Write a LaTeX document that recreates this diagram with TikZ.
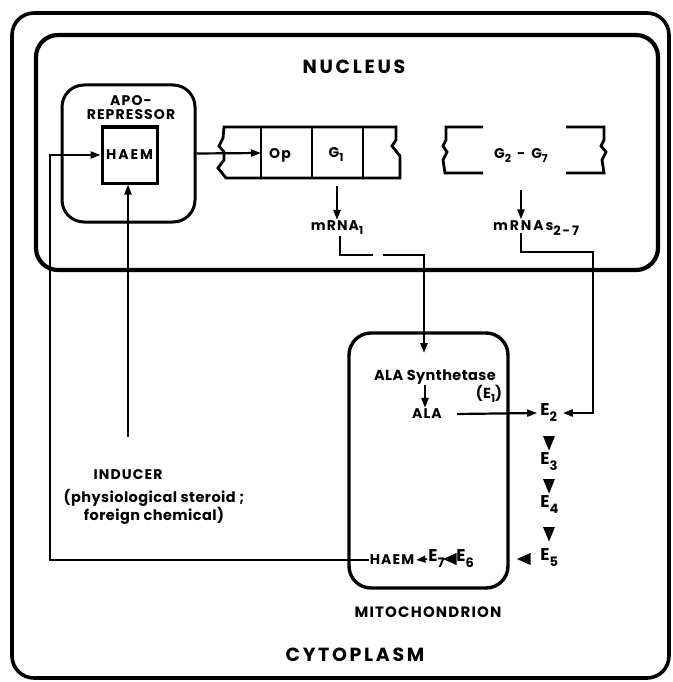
\documentclass[tikz,border=0pt]{standalone}
\usepackage{fontspec}
\setmainfont{Poppins}
\newfontfamily\labf[LetterSpace=8]{Poppins}
\newfontfamily\wlabf[LetterSpace=14]{Poppins}
\newfontfamily\txtf[LetterSpace=3]{Poppins}
\usetikzlibrary{arrows.meta}
\newcommand\Es[1]{E\rlap{\raisebox{-6pt}{\fontsize{13}{13}\selectfont #1}}}
\newcommand\sbs[1]{\raisebox{-4pt}{\fontsize{11}{11}\selectfont #1}}
\begin{document}
\begin{tikzpicture}[x=1pt,y=-1pt,
  every node/.style={inner sep=1pt},
  lbl/.style={font=\labf\bfseries\fontsize{14}{17}\selectfont},
  big/.style={font=\wlabf\bfseries\fontsize{19}{21}\selectfont},
  mid/.style={font=\labf\bfseries\fontsize{15}{17}\selectfont},
  txt/.style={font=\txtf\bfseries\fontsize{14.5}{18}\selectfont},
  enz/.style={font=\bfseries\fontsize{17}{18}\selectfont},
  arr/.style={line width=2.2pt,-{Triangle[length=10pt,width=7pt]}},
  conn/.style={line width=2.2pt},
  gene/.style={line width=2.8pt,line join=miter},
  dtri/.pic={\fill (-6,-7) -- (6,-7) -- (0,7.5) -- cycle;},
  ltri/.pic={\fill (6.5,-6) -- (6.5,6) -- (-7,0) -- cycle;}
]
\useasboundingbox (0,0) rectangle (672,682);
% compartments
\draw[line width=3.6pt,rounded corners=22pt] (12,13) rectangle (669,678);
\draw[line width=4.2pt,rounded corners=22pt] (36,35) rectangle (658,270);
\node[big] (nuc) at (354,67) {NUCLEUS};
\draw[line width=3.4pt,rounded corners=22pt] (349,333) rectangle (508,588);
\node[mid] (mito) at (428,612) {MITOCHONDRION};
\node[big] (cyto) at (355,655) {CYTOPLASM};
% aporepressor
\node[draw,line width=3pt,rounded corners=22pt,minimum width=133pt,minimum height=137pt] (apobox) at (128.5,153.5) {};
\node[lbl,align=center] (apo) at (131,108) {APO-\\[-3pt]REPRESSOR};
\node[draw,line width=3pt,minimum width=55pt,minimum height=56pt,font=\wlabf\bfseries\fontsize{14}{17}\selectfont,inner sep=0pt] (haemR) at (129.5,155) {HAEM};
% operon gene bar
\draw[gene] (224,127) -- (396,127) -- (396,140) -- (392,146) -- (400,156) -- (400,178) -- (226,178)
  -- (218,168) -- (224,160) -- (224,152) -- (219,146) -- (223,138) -- cycle;
\draw[gene] (261,127) -- (261,178) (312,127) -- (312,178) (363,127) -- (363,178);
\coordinate (opw) at (261,153);
\node[lbl] (op) at (280,155) {Op};
\node[lbl] (g1) at (336,155) {G\sbs{1}};
% G2-G7 brackets
\draw[gene] (483,127) -- (446,127) -- (446,140) -- (443,146) -- (447,152) -- (443,160) -- (445,173) -- (483,173);
\draw[gene] (566,127) -- (604,127) -- (604,140) -- (601,146) -- (606,152) -- (602,160) -- (604,173) -- (566,173);
\node[lbl] (g27) at (521,156) {G\sbs{2}\hspace{6pt}-\hspace{6pt}G\sbs{7}};
% mRNAs
\node[lbl] (m1) at (337,228) {mRNA\sbs{1}};
\node[font=\wlabf\bfseries\fontsize{14}{17}\selectfont] (m27) at (536,228) {mRNAs\raisebox{-5pt}{\fontsize{13}{13}\selectfont 2-7}};
\coordinate (g1b) at (337,186);
\coordinate (g27b) at (521,190);
\draw[arr] (g1b) -- (m1.north -| g1b);
\draw[arr] (g27b) -- (m27.north -| g27b);
% mitochondrion contents
\node[txt] (alas) at (435,377) {ALA Synthetase};
\node[txt] (e1) at (489,394) {(E\sbs{1})};
\node[lbl] (ala) at (427,414) {ALA};
\coordinate (atop) at (424,353);
\draw[arr] (alas.south -| 425,0) -- (ala.north -| 425,0);
% mRNA1 route
\coordinate (m1a) at (340,236);
\coordinate (m1b) at (340,255);
\coordinate (m1c) at (373,255);
\coordinate (m1d) at (383,255);
\coordinate (m1e) at (424,255);
\draw[conn] (m1a) -- (m1b) -- (m1c);
\draw[arr] (m1d) -- (m1e) -- (atop);
% enzyme chain
\node[enz] (e2) at (545,413) {\Es{2}};
\node[enz] (e3) at (545,462) {\Es{3}};
\node[enz] (e4) at (545,505) {\Es{4}};
\node[enz] (e5) at (545,558) {\Es{5}};
\node[enz] (e6) at (461,559) {\Es{6}};
\node[enz] (e7) at (433,559) {\Es{7}};
\node[lbl] (haemM) at (392,560) {HAEM};
\coordinate (alae) at (457,414);
\draw[arr] (alae) -- ([xshift=-2pt]e2.west);
\coordinate (m27a) at (521,233);
\coordinate (m27b) at (521,252);
\coordinate (m27c) at (593,252);
\coordinate (m27d) at (593,413);
\draw[arr] (m27a) -- (m27b) -- (m27c) -- (m27d) -- ([xshift=12pt]e2.east);
\pic at (549,443) {dtri};
\pic at (549,486) {dtri};
\pic at (549,534) {dtri};
\pic at (524,559) {ltri};
\pic at (450,559) {ltri};
\draw[line width=1.6pt,-{Triangle[length=9pt,width=7pt]}] (e7.west) -- ([xshift=1pt]haemM.east);
% haem feedback loop
\coordinate (loopx) at (50,0);
\draw[arr] (haemM.west) -- (haemM.west -| loopx) -- (loopx |- haemR.west) -- (haemR.west);
\draw[arr] (apobox.east) -- (opw);
% inducer
\coordinate (indtop) at (128,437);
\draw[arr] (indtop) -- (indtop |- haemR.south);
\node[lbl] (ind) at (128,475) {INDUCER};
\node[txt,align=center] (indx) at (154,507) {(physiological steroid ;\\foreign chemical)};
\end{tikzpicture}
\end{document}
